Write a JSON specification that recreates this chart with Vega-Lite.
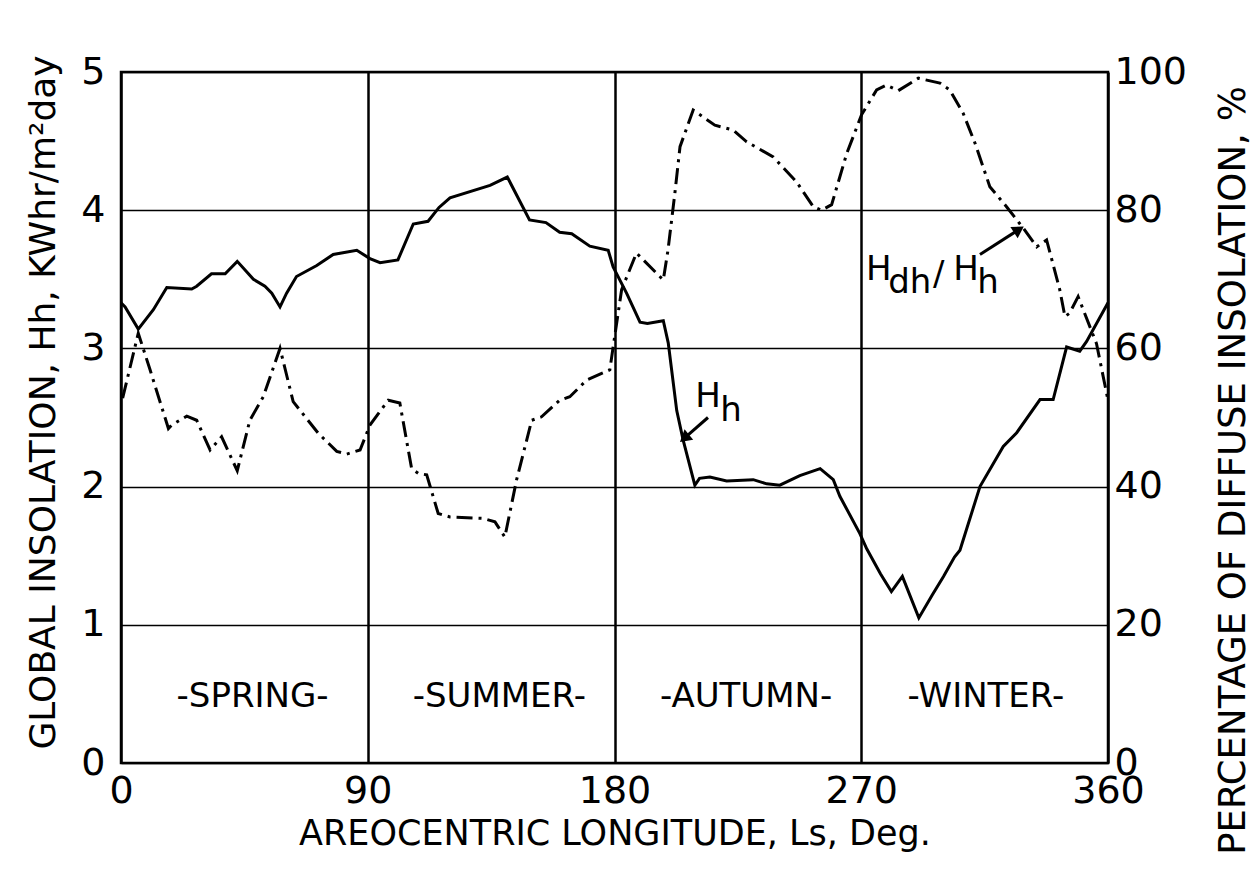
{
  "$schema": "https://vega.github.io/schema/vega-lite/v6.json",
  "width": 987,
  "height": 691,
  "autosize": {"type": "none"},
  "padding": {"left": 121, "top": 72, "right": 149, "bottom": 118},
  "background": "white",
  "config": {
    "view": {"stroke": "black", "strokeWidth": 2.5},
    "font": "DejaVu Sans",
    "axis": {
      "labelFont": "DejaVu Sans",
      "titleFont": "DejaVu Sans",
      "labelColor": "black",
      "titleColor": "black",
      "titleFontWeight": "normal",
      "ticks": false,
      "domain": false,
      "labelFontSize": 38,
      "titleFontSize": 35
    }
  },
  "datasets": {
    "hh": [
      {"Ls": 0, "value": 3.33}, {"Ls": 1.5, "value": 3.30}, {"Ls": 6.3, "value": 3.14}, {"Ls": 11.8, "value": 3.28},
      {"Ls": 16.7, "value": 3.44}, {"Ls": 25.8, "value": 3.43}, {"Ls": 27.6, "value": 3.45}, {"Ls": 33, "value": 3.54},
      {"Ls": 38, "value": 3.54}, {"Ls": 42.4, "value": 3.63}, {"Ls": 48.3, "value": 3.50}, {"Ls": 52.5, "value": 3.45},
      {"Ls": 55, "value": 3.40}, {"Ls": 58, "value": 3.30}, {"Ls": 60.4, "value": 3.40}, {"Ls": 64, "value": 3.52},
      {"Ls": 71.4, "value": 3.60}, {"Ls": 77.4, "value": 3.68}, {"Ls": 86, "value": 3.71}, {"Ls": 90.8, "value": 3.65},
      {"Ls": 94.5, "value": 3.62}, {"Ls": 101, "value": 3.64}, {"Ls": 106.6, "value": 3.90}, {"Ls": 112, "value": 3.92},
      {"Ls": 116, "value": 4.02}, {"Ls": 120, "value": 4.09}, {"Ls": 134.6, "value": 4.18}, {"Ls": 140.9, "value": 4.24},
      {"Ls": 149, "value": 3.93}, {"Ls": 155, "value": 3.91}, {"Ls": 160, "value": 3.84}, {"Ls": 164.4, "value": 3.83},
      {"Ls": 171, "value": 3.74}, {"Ls": 177.7, "value": 3.71}, {"Ls": 179.5, "value": 3.59}, {"Ls": 184.4, "value": 3.40},
      {"Ls": 189.3, "value": 3.19}, {"Ls": 192, "value": 3.18}, {"Ls": 197.8, "value": 3.20}, {"Ls": 199.6, "value": 3.04},
      {"Ls": 202.7, "value": 2.55}, {"Ls": 205, "value": 2.34}, {"Ls": 209.3, "value": 2.01}, {"Ls": 211, "value": 2.06},
      {"Ls": 214.8, "value": 2.07}, {"Ls": 220.9, "value": 2.04}, {"Ls": 230.6, "value": 2.05}, {"Ls": 235.5, "value": 2.02},
      {"Ls": 240.3, "value": 2.01}, {"Ls": 247.6, "value": 2.08}, {"Ls": 255, "value": 2.13}, {"Ls": 259.8, "value": 2.05},
      {"Ls": 262.2, "value": 1.93}, {"Ls": 269.5, "value": 1.66}, {"Ls": 272, "value": 1.55}, {"Ls": 277, "value": 1.37},
      {"Ls": 281, "value": 1.24}, {"Ls": 285, "value": 1.35}, {"Ls": 291, "value": 1.05}, {"Ls": 296, "value": 1.22},
      {"Ls": 300, "value": 1.35}, {"Ls": 304, "value": 1.49}, {"Ls": 306, "value": 1.54}, {"Ls": 313.3, "value": 2.0},
      {"Ls": 321.8, "value": 2.29}, {"Ls": 326.7, "value": 2.39}, {"Ls": 335.2, "value": 2.63}, {"Ls": 340, "value": 2.63},
      {"Ls": 344.9, "value": 3.01}, {"Ls": 349.7, "value": 2.98}, {"Ls": 352.2, "value": 3.05}, {"Ls": 360, "value": 3.33}
    ],
    "ratio": [
      {"Ls": 0.6, "pct": 52.8}, {"Ls": 6.3, "pct": 62.2}, {"Ls": 10.6, "pct": 56.9}, {"Ls": 17.3, "pct": 48.4},
      {"Ls": 18.5, "pct": 48.9}, {"Ls": 24, "pct": 50.2}, {"Ls": 27.6, "pct": 49.6}, {"Ls": 32.5, "pct": 45.3},
      {"Ls": 36.7, "pct": 47.2}, {"Ls": 42.4, "pct": 42.3}, {"Ls": 47, "pct": 49.6}, {"Ls": 51.9, "pct": 53.0},
      {"Ls": 58, "pct": 60.0}, {"Ls": 62.8, "pct": 52.3}, {"Ls": 72, "pct": 47.7}, {"Ls": 78.7, "pct": 45.1},
      {"Ls": 82.3, "pct": 44.7}, {"Ls": 87.2, "pct": 45.3}, {"Ls": 90.8, "pct": 48.9}, {"Ls": 97.5, "pct": 52.5},
      {"Ls": 101.7, "pct": 52.1}, {"Ls": 106, "pct": 42.6}, {"Ls": 108.5, "pct": 41.9}, {"Ls": 111.5, "pct": 41.7},
      {"Ls": 115.7, "pct": 36.1}, {"Ls": 120, "pct": 35.6}, {"Ls": 132, "pct": 35.4}, {"Ls": 136.4, "pct": 34.9},
      {"Ls": 140, "pct": 32.7}, {"Ls": 144.3, "pct": 41.0}, {"Ls": 149.8, "pct": 49.6}, {"Ls": 153.4, "pct": 50.1},
      {"Ls": 160, "pct": 52.5}, {"Ls": 163.7, "pct": 53.0}, {"Ls": 169.8, "pct": 55.4}, {"Ls": 178.3, "pct": 56.9},
      {"Ls": 179.5, "pct": 60.2}, {"Ls": 182.6, "pct": 68.5}, {"Ls": 188, "pct": 73.8}, {"Ls": 197.8, "pct": 69.9},
      {"Ls": 199.5, "pct": 74.2}, {"Ls": 202, "pct": 82.4}, {"Ls": 203.9, "pct": 89.2}, {"Ls": 208.7, "pct": 94.5},
      {"Ls": 216.6, "pct": 92.3}, {"Ls": 223.3, "pct": 91.6}, {"Ls": 228.2, "pct": 89.9}, {"Ls": 237.9, "pct": 87.7},
      {"Ls": 246.4, "pct": 84.1}, {"Ls": 252.5, "pct": 80.5}, {"Ls": 255.5, "pct": 80.0}, {"Ls": 259.2, "pct": 80.8},
      {"Ls": 264.7, "pct": 88.2}, {"Ls": 270.1, "pct": 93.8}, {"Ls": 275.6, "pct": 97.4}, {"Ls": 279.2, "pct": 98.1},
      {"Ls": 283.5, "pct": 97.3}, {"Ls": 290.8, "pct": 99.1}, {"Ls": 298.7, "pct": 98.4}, {"Ls": 302.3, "pct": 97.4},
      {"Ls": 307.2, "pct": 94.0}, {"Ls": 311.5, "pct": 89.7}, {"Ls": 316.9, "pct": 83.4}, {"Ls": 323, "pct": 80.5},
      {"Ls": 329.1, "pct": 77.4}, {"Ls": 334, "pct": 74.7}, {"Ls": 337.6, "pct": 75.7}, {"Ls": 342.4, "pct": 68.5},
      {"Ls": 344.3, "pct": 64.6}, {"Ls": 346, "pct": 65.1}, {"Ls": 349.1, "pct": 67.5}, {"Ls": 355.8, "pct": 60.7},
      {"Ls": 360, "pct": 52.5}
    ],
    "seasons": [
      {"Ls": 48, "value": 0.48, "label": "-SPRING-"},
      {"Ls": 138, "value": 0.48, "label": "-SUMMER-"},
      {"Ls": 228, "value": 0.48, "label": "-AUTUMN-"},
      {"Ls": 315.5, "value": 0.48, "label": "-WINTER-"}
    ],
    "labels": [
      {"Ls": 214.1, "value": 2.648, "label": "H"},
      {"Ls": 222.5, "value": 2.547, "label": "h"},
      {"Ls": 276.4, "value": 3.567, "label": "H"},
      {"Ls": 287.7, "value": 3.473, "label": "dh"},
      {"Ls": 298.3, "value": 3.53, "label": "/"},
      {"Ls": 308.2, "value": 3.567, "label": "H"},
      {"Ls": 316.2, "value": 3.473, "label": "h"}
    ],
    "arrows": [
      {"Ls": 214.1, "value": 2.50, "Ls2": 205.5, "value2": 2.35},
      {"Ls": 313.3, "value": 3.68, "Ls2": 327.5, "value2": 3.86}
    ],
    "tipHh": [{"Ls": 205.5, "value": 2.35}],
    "tipRatio": [{"Ls": 327.5, "value": 3.86}]
  },
  "layer": [
    {
      "layer": [
        {
          "data": {"name": "hh"},
          "mark": {"type": "line", "color": "black", "strokeWidth": 3},
          "encoding": {
            "x": {
              "field": "Ls", "type": "quantitative",
              "scale": {"domain": [0, 360], "nice": false},
              "axis": {
                "title": "AREOCENTRIC LONGITUDE, Ls, Deg.",
                "values": [0, 90, 180, 270, 360],
                "format": "d",
                "grid": true, "gridColor": "black", "gridWidth": 2.5, "gridOpacity": 1,
                "labelPadding": 9, "titlePadding": 6, "labelFlush": false
              }
            },
            "y": {
              "field": "value", "type": "quantitative",
              "scale": {"domain": [0, 5], "nice": false},
              "axis": {
                "title": "GLOBAL INSOLATION, Hh, KWhr/m²day",
                "values": [0, 1, 2, 3, 4, 5],
                "format": "d",
                "grid": true, "gridColor": "black", "gridWidth": 1.5, "gridOpacity": 1,
                "labelPadding": 16, "titlePadding": 18, "titleFontSize": 36,
                "titleY": 330,
                "labelFlush": false
              }
            }
          }
        },
        {
          "data": {"name": "seasons"},
          "mark": {"type": "text", "fontSize": 34, "color": "black", "align": "center", "baseline": "middle"},
          "encoding": {
            "x": {"field": "Ls", "type": "quantitative"},
            "y": {"field": "value", "type": "quantitative"},
            "text": {"field": "label"}
          }
        },
        {
          "data": {"name": "labels"},
          "mark": {"type": "text", "fontSize": 34, "color": "black", "align": "center", "baseline": "middle"},
          "encoding": {
            "x": {"field": "Ls", "type": "quantitative"},
            "y": {"field": "value", "type": "quantitative"},
            "text": {"field": "label"}
          }
        },
        {
          "data": {"name": "arrows"},
          "mark": {"type": "rule", "color": "black", "strokeWidth": 3},
          "encoding": {
            "x": {"field": "Ls", "type": "quantitative"},
            "y": {"field": "value", "type": "quantitative"},
            "x2": {"field": "Ls2"},
            "y2": {"field": "value2"}
          }
        },
        {
          "data": {"name": "tipHh"},
          "mark": {"type": "point", "shape": "triangle-up", "filled": true, "color": "black", "opacity": 1, "size": 180, "angle": 230},
          "encoding": {
            "x": {"field": "Ls", "type": "quantitative"},
            "y": {"field": "value", "type": "quantitative"}
          }
        },
        {
          "data": {"name": "tipRatio"},
          "mark": {"type": "point", "shape": "triangle-up", "filled": true, "color": "black", "opacity": 1, "size": 180, "angle": 57},
          "encoding": {
            "x": {"field": "Ls", "type": "quantitative"},
            "y": {"field": "value", "type": "quantitative"}
          }
        }
      ]
    },
    {
      "data": {"name": "ratio"},
      "mark": {"type": "line", "color": "black", "strokeWidth": 3, "strokeDash": [16, 6, 3, 6]},
      "encoding": {
        "x": {"field": "Ls", "type": "quantitative"},
        "y": {
          "field": "pct", "type": "quantitative",
          "scale": {"domain": [0, 100], "nice": false},
          "axis": {
            "orient": "right",
            "title": "PERCENTAGE OF DIFFUSE INSOLATION, %",
            "values": [0, 20, 40, 60, 80, 100],
            "format": "d",
            "grid": false,
            "labelPadding": 6, "titlePadding": 66, "titleFontSize": 37,
            "titleAngle": 270,
            "titleY": 398,
            "labelFlush": false
          }
        }
      }
    }
  ],
  "resolve": {"scale": {"y": "independent"}}
}
